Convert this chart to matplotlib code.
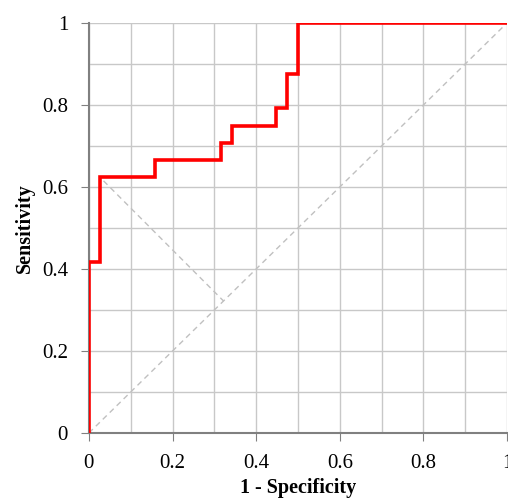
import numpy as np
import matplotlib
matplotlib.use("Agg")
import matplotlib.pyplot as plt

plt.rcParams['font.family'] = ['Liberation Serif', 'DejaVu Serif']

# ROC step curve (1 - specificity, sensitivity)
fpr = [0, 0, 0.026, 0.026, 0.158, 0.158, 0.316, 0.316, 0.342, 0.342,
       0.447, 0.447, 0.474, 0.474, 0.5, 0.5, 1.0]
tpr = [0, 0.417, 0.417, 0.625, 0.625, 0.667, 0.667, 0.708, 0.708, 0.75,
       0.75, 0.792, 0.792, 0.875, 0.875, 1.0, 1.0]

# reference diagonal and Youden distance line
diag_x = [0, 1]
diag_y = [0, 1]
youden_x = [0.035, 0.322]
youden_y = [0.615, 0.322]

ticks = [0, 0.2, 0.4, 0.6, 0.8, 1]
tick_labels = ['0', '0.2', '0.4', '0.6', '0.8', '1']

fig = plt.figure(figsize=(5.08, 5.0), dpi=100)
ax = fig.add_axes([0.175, 0.134, 0.823, 0.82])

grid_col = '#c8c8c8'
ax.set_xticks(np.arange(0, 1.01, 0.1), minor=True)
ax.set_yticks(np.arange(0, 1.01, 0.1), minor=True)
ax.grid(True, which='both', color=grid_col, linewidth=1.0)
ax.set_axisbelow(True)

ax.plot(diag_x, diag_y, color='#c0c0c0', linestyle=(0, (4, 3)), linewidth=1.0)
ax.plot(youden_x, youden_y, color='#c0c0c0', linestyle=(0, (4, 3)), linewidth=1.0)
ax.plot(fpr, tpr, color='#ff0000', linewidth=2.6, solid_joinstyle='miter', zorder=5)

ax.set_xlim(0, 1)
ax.set_ylim(0, 1)
ax.set_xticks(ticks)
ax.set_xticklabels(tick_labels)
ax.set_yticks(ticks)
ax.set_yticklabels(tick_labels)
ax.tick_params(which='major', direction='out', length=6, color='#808080',
               labelsize=15)
ax.tick_params(which='minor', length=0)
ax.tick_params(axis='x', pad=9)
ax.tick_params(axis='y', pad=9)

for s in ['top', 'right']:
    ax.spines[s].set_visible(False)
for s in ['left', 'bottom']:
    ax.spines[s].set_color('#808080')
    ax.spines[s].set_linewidth(1.5)

ax.set_xlabel('1 - Specificity', fontsize=14.5, fontweight='bold', labelpad=4)
ax.set_ylabel('Sensitivity', fontsize=14.5, fontweight='bold', labelpad=5)

fig.savefig('out.png', dpi=100)
